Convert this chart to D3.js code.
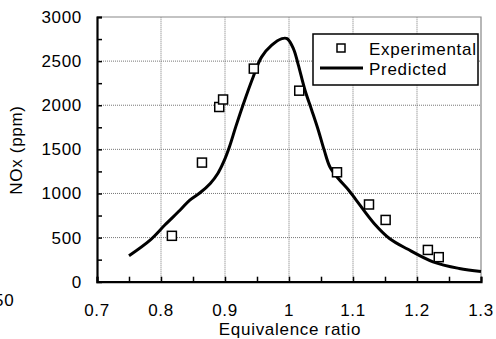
<!DOCTYPE html>
<html>
<head>
<meta charset="utf-8">
<script src="https://cdn.jsdelivr.net/npm/d3@7"></script>
<style>
body { margin: 0; background: #fff; }
text { font-family: "Liberation Sans", Arial, sans-serif; font-size: 17px; letter-spacing: 0.7px; fill: #000; }
</style>
</head>
<body>
<div id="chart"></div>
<script>
// experimental points
expX = [0.817, 0.864, 0.891, 0.897, 0.945, 1.016, 1.075, 1.125, 1.151, 1.217, 1.234];
expY = [520, 1350, 1980, 2065, 2415, 2165, 1240, 875, 700, 360, 278];

// predicted curve
predX = [0.75, 0.783, 0.806, 0.83, 0.845, 0.861, 0.877, 0.889, 0.898, 0.907, 0.917, 0.929, 0.944, 0.957, 0.973, 0.989, 0.997,
         1.007, 1.0145, 1.025, 1.0355, 1.0458, 1.055, 1.064, 1.077, 1.093, 1.105, 1.133, 1.157, 1.185, 1.225, 1.266, 1.3];
predY = [295, 472, 642, 812, 925, 1008, 1114, 1230, 1360, 1530, 1760, 2020, 2320, 2545, 2680, 2755, 2755,
         2640, 2457, 2170, 1944, 1717, 1491, 1300, 1170, 1040, 925, 660, 490, 370, 225, 150, 115];

xTicks = [0.7, 0.8, 0.9, 1, 1.1, 1.2, 1.3];
yTicks = [0, 500, 1000, 1500, 2000, 2500, 3000];

width = 496, height = 339;
margin = { top: 17, right: 15, bottom: 57.3, left: 97 };

var svg = d3.select("#chart")
            .append("svg")
            .attr("width", width)
            .attr("height", height);

var x = d3.scaleLinear().domain([0.7, 1.3]).range([margin.left, width - margin.right]);
var y = d3.scaleLinear().domain([0, 3000]).range([height - margin.bottom, margin.top]);

// grid
svg.append("g").selectAll("line")
   .data(xTicks.slice(1, -1))
   .enter().append("line")
   .attr("x1", d => x(d)).attr("x2", d => x(d))
   .attr("y1", y(0)).attr("y2", y(3000))
   .attr("stroke", "#777").attr("stroke-dasharray", "1,1");
svg.append("g").selectAll("line")
   .data(yTicks.slice(1, -1))
   .enter().append("line")
   .attr("x1", x(0.7)).attr("x2", x(1.3))
   .attr("y1", d => y(d)).attr("y2", d => y(d))
   .attr("stroke", "#777").attr("stroke-dasharray", "1,1");

// top / right frame
svg.append("path")
   .attr("d", "M" + x(0.7) + "," + y(3000) + "H" + x(1.3) + "V" + y(0))
   .attr("fill", "none").attr("stroke", "#888").attr("stroke-width", 1.2);

// axes with inward ticks
var xMinor = d3.range(0, 13).map(i => 0.7 + i * 0.05);
var yMinor = d3.range(0, 13).map(i => i * 250);

var xAxis = svg.append("g")
   .attr("transform", "translate(0," + y(0) + ")")
   .call(d3.axisBottom(x).tickValues(xMinor).tickSize(-5).tickFormat(""));
var yAxis = svg.append("g")
   .attr("transform", "translate(" + x(0.7) + ",0)")
   .call(d3.axisLeft(y).tickValues(yMinor).tickSize(-5).tickFormat(""));
[xAxis, yAxis].forEach(function(a) {
  a.select(".domain").attr("stroke", "#000").attr("stroke-width", 2.2);
  a.selectAll(".tick line").attr("stroke", "#000").attr("stroke-width", 1.5);
});

// tick labels
svg.append("g").selectAll("text")
   .data(xTicks)
   .enter().append("text")
   .attr("x", d => x(d)).attr("y", 315.5)
   .attr("text-anchor", "middle")
   .text(d => d);
svg.append("g").selectAll("text")
   .data(yTicks)
   .enter().append("text")
   .attr("x", 82).attr("y", d => y(d) + 6)
   .attr("text-anchor", "end")
   .text(d => d);

// titles
svg.append("text")
   .attr("x", 290).attr("y", 335)
   .attr("text-anchor", "middle")
   .text("Equivalence ratio");
svg.append("text")
   .attr("transform", "translate(22,150) rotate(-90)")
   .attr("text-anchor", "middle")
   .text("NOx (ppm)");
svg.append("text")
   .attr("x", -6).attr("y", 306)
   .text("50");

// predicted line
var line = d3.line()
   .x((d, i) => x(predX[i]))
   .y(d => y(d))
   .curve(d3.curveCatmullRom);
svg.append("path")
   .datum(predY)
   .attr("d", line)
   .attr("fill", "none")
   .attr("stroke", "#000")
   .attr("stroke-width", 3);

// experimental markers
svg.append("g").selectAll("rect")
   .data(expY)
   .enter().append("rect")
   .attr("x", (d, i) => x(expX[i]) - 4.5)
   .attr("y", d => y(d) - 4.5)
   .attr("width", 9).attr("height", 9)
   .attr("fill", "#fff").attr("stroke", "#000").attr("stroke-width", 1.5);

// legend
var leg = svg.append("g");
leg.append("rect")
   .attr("x", 313).attr("y", 34).attr("width", 165).attr("height", 51)
   .attr("fill", "#fff").attr("stroke", "#000").attr("stroke-width", 1.5);
leg.append("rect")
   .attr("x", 337).attr("y", 44).attr("width", 8).attr("height", 8)
   .attr("fill", "#fff").attr("stroke", "#000").attr("stroke-width", 1.5);
leg.append("line")
   .attr("x1", 320).attr("x2", 363).attr("y1", 68).attr("y2", 68)
   .attr("stroke", "#000").attr("stroke-width", 3);
leg.append("text").attr("x", 369).attr("y", 55).text("Experimental");
leg.append("text").attr("x", 369).attr("y", 75).text("Predicted");
</script>
</body>
</html>
